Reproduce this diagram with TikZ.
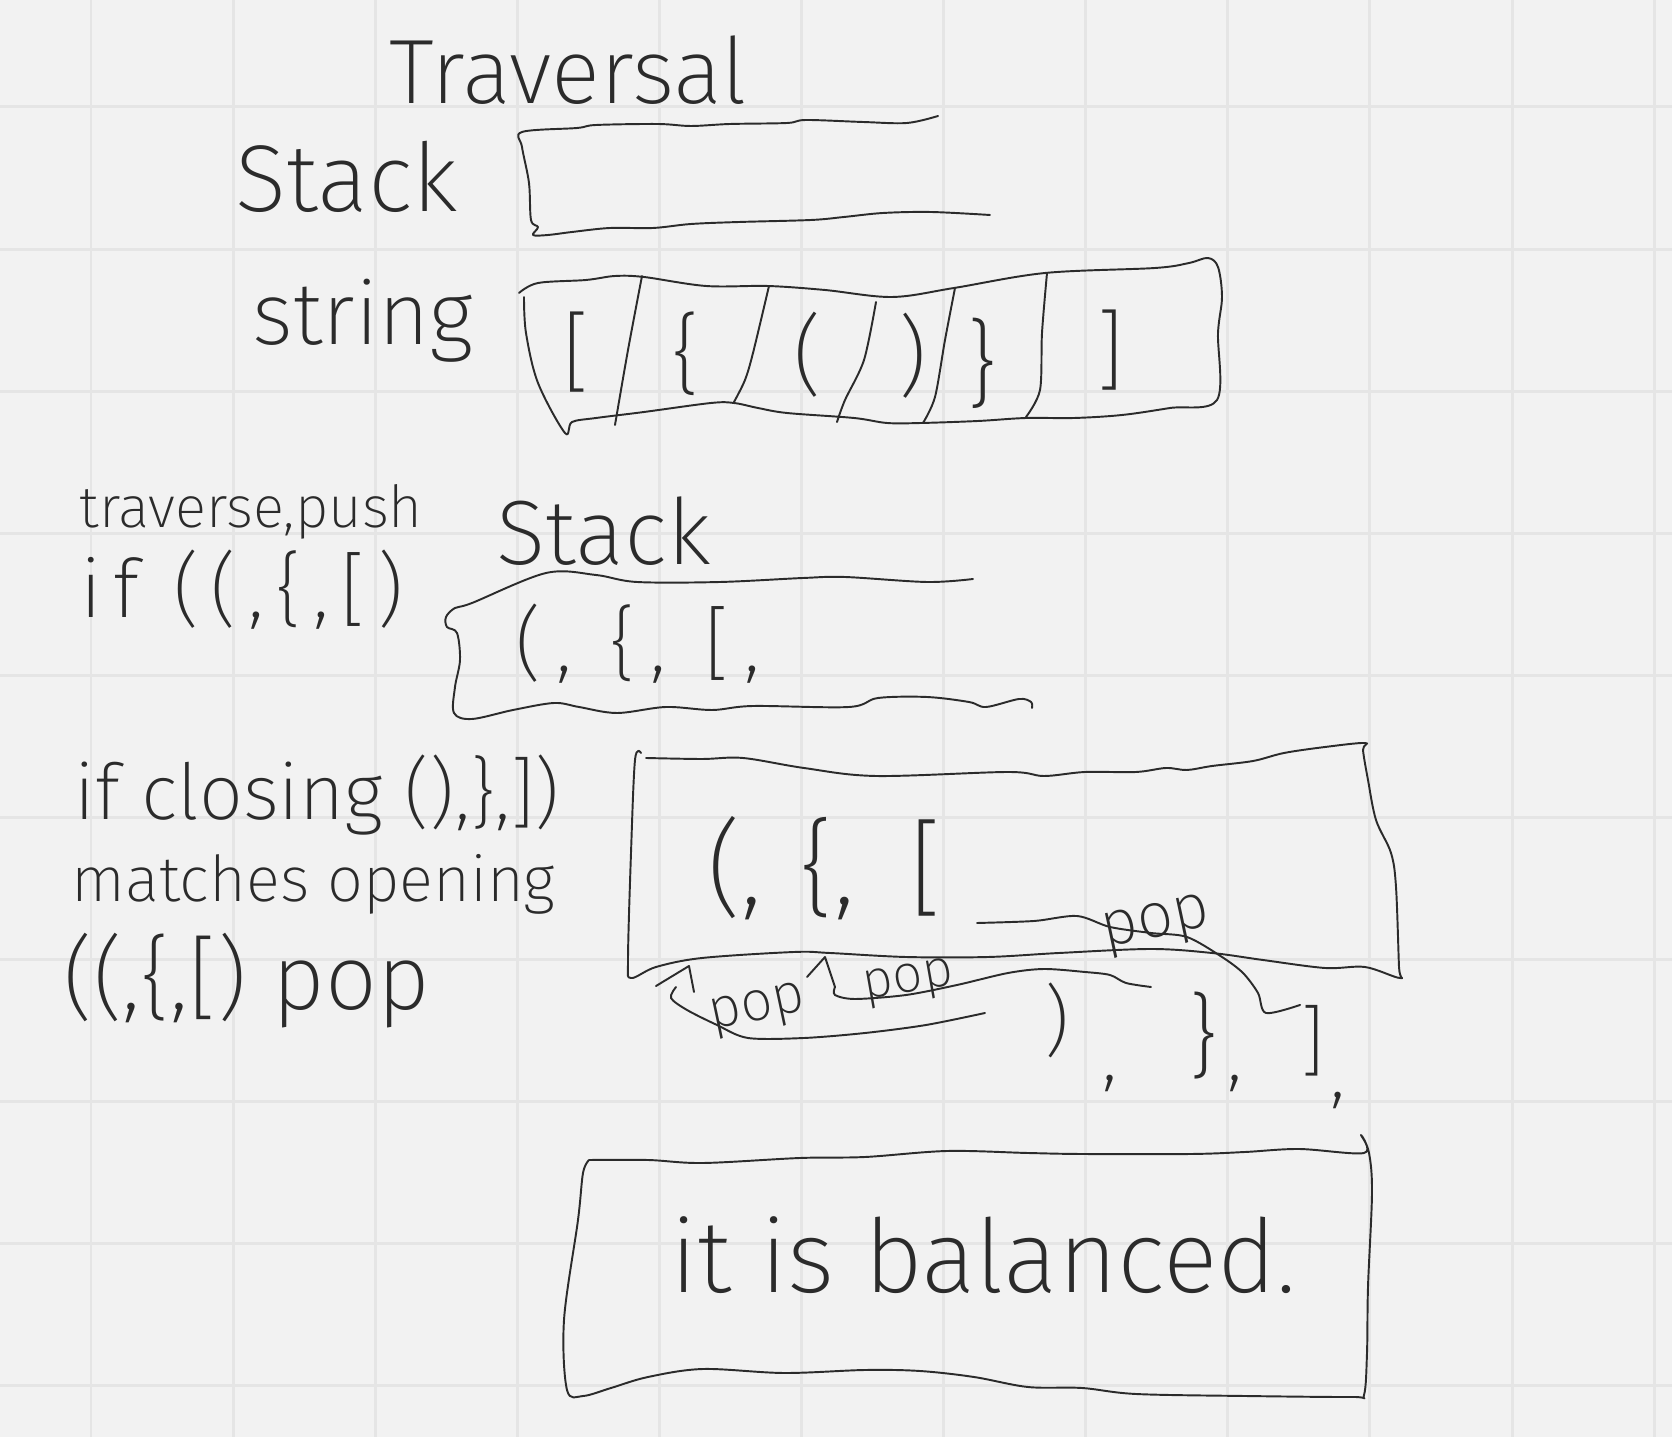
\documentclass[tikz,border=0pt]{standalone}
\usepackage{fontspec}
\newfontfamily\handfont{Fira Sans ExtraLight}

\definecolor{paper}{HTML}{F2F2F2}
\definecolor{gridc}{HTML}{E5E5E5}
\definecolor{ink}{HTML}{2B2B2B}

\newcommand\hs[1]{\fontsize{#1}{#1}\selectfont}
\newcommand\spread[1]{\addfontfeatures{LetterSpace=#1}}

\tikzset{
  pen/.style={ink, line width=0.55pt, line cap=round, line join=round},
  hw/.style={font=\handfont\hs{#1}, text=ink, inner sep=0pt, anchor=base west},
  glyph/.style={font=\handfont\hs{#1}, text=ink, inner sep=0pt},
}

\begin{document}
\begin{tikzpicture}[x=0.01cm, y=-0.01cm]
  \useasboundingbox (0,0) rectangle (1672,1437);
  % squared paper
  \fill[paper] (0,0) rectangle (1672,1437);
  \foreach \gx in {0,...,11}
    \draw[gridc, line width=0.85pt] ({91+142.1*\gx},0) -- ++(0,1437);
  \foreach \gy in {0,...,9}
    \draw[gridc, line width=0.85pt] (0,{107+142.1*\gy}) -- ++(1672,0);

  % headings
  \node[hw=26] (title) at (389,104) {Traversal};
  \node[hw=27] (stacklbl) at (235,212) {Stack};
  \node[hw=25] (strlbl) at (252,345) {string};

  % empty stack
  \draw[pen] plot[smooth, tension=0.55] coordinates {(938,116) (907,123) (863,122) (806,120) (787,123) (730,124) (691,126) (658,124) (596,125) (577,128) (522,132) (522,147) (529,183) (531,220) (538,227) (533,235) (548,235) (572,232) (610,228) (653,228) (691,224) (739,222) (811,220) (844,217) (883,213) (931,212) (990,215)};

  % the string
  \draw[pen] plot[smooth, tension=0.55] coordinates {(519,293) (538,283) (586,280) (615,276) (644,277) (706,286) (768,286) (825,290) (892,297) (954,288) (1045,273) (1155,268) (1189,263) (1208,258) (1218,267) (1222,297) (1218,333) (1217,400) (1170,408) (1122,415) (1074,418) (1026,418) (978,421) (921,423) (887,423) (854,418) (787,413) (758,408) (734,403) (711,403) (644,412) (596,418) (572,422) (565,433) (538,383) (526,333) (524,297)};
  \draw[pen] plot[smooth] coordinates {(642,276) (628,350) (615,425)};
  \draw[pen] plot[smooth] coordinates {(769,286) (753,353) (745,380) (734,402)};
  \draw[pen] plot[smooth] coordinates {(876,302) (864,360) (845,400) (837,422)};
  \draw[pen] plot[smooth] coordinates {(955,288) (945,340) (935,397) (923,423)};
  \draw[pen] plot[smooth] coordinates {(1047,273) (1042,333) (1040,390) (1026,417)};
  \node[glyph=25] (s1) at (576,352) {[};
  \node[glyph=25] (s2) at (686,354) {\{};
  \node[glyph=25] (s3) at (808,355) {(};
  \node[glyph=25] (s4) at (913,356) {)};
  \node[glyph=27] (s5) at (982,363) {\}};
  \node[glyph=25] (s6) at (1110,350) {]};

  % pushing
  \node[hw=16.5] (trav) at (79,528) {traverse,push};
  \node[hw=23] (ifopen) at (80,618) {\spread{14}if ((,\{,[)};
  \node[hw=26] (stackB) at (496,565) {Stack};
  \draw[pen] plot[smooth, tension=0.55] coordinates {(973,579) (927,582) (845,577) (803,578) (720,582) (637,582) (596,575) (546,573) (472,603) (455,608) (446,617) (447,627) (457,633) (460,660) (455,687) (454,713) (472,719) (513,710) (554,703) (579,707) (617,713) (666,707) (712,710) (753,706) (849,707) (878,698) (927,697) (969,702) (986,707) (1019,699) (1031,702) (1032,708)};
  \node[hw=23] (pushed) at (515,672) {\spread{18}(, \{, [,};

  % popping
  \node[hw=22] (ifclose) at (74,820) {if closing (),\},])};
  \node[hw=18] (matches) at (71,902) {matches opening};
  \node[hw=26] (popline) at (63,1010) {((,\{,[) pop};
  \draw[pen] plot[smooth, tension=0.55] coordinates {(641,753) (635,760) (631,853) (628,960) (631,978) (656,967) (702,958) (794,952) (830,953) (906,957) (988,957) (1059,953) (1151,949) (1212,953) (1263,960) (1325,968) (1365,967) (1400,978) (1399,967) (1396,887) (1391,853) (1376,820) (1368,780) (1363,750) (1365,743) (1325,747) (1284,753) (1253,761) (1212,766) (1187,770) (1166,768) (1136,772) (1085,772) (1044,776) (1008,772) (876,776) (804,768) (743,758) (702,759) (646,758)};
  \node[hw=30] (o1) at (707,905) {(,};
  \node[hw=30] (o2) at (799,905) {\{,};
  \node[hw=30] (o3) at (909,905) {[};

  \node[glyph=22] (c1) at (1057,1020) {)};
  \node[glyph=22] (k1) at (1110,1083) {,};
  \node[glyph=26] (c2) at (1203,1036) {\}};
  \node[glyph=22] (k2) at (1235,1083) {,};
  \node[glyph=22] (c3) at (1313,1041) {]};
  \node[glyph=22] (k3) at (1338,1100) {,};

  \node[hw=18, rotate=12] (popR) at (1105,948) {pop};
  \node[hw=15, rotate=10] (popM) at (865,1000) {pop};
  \node[hw=16, rotate=12] (popL) at (712,1030) {pop};

  \coordinate (caretL) at (689,966);
  \coordinate (caretM) at (825,957);
  \coordinate (lineR) at (977,923);
  \coordinate (swL) at (985,1013);
  \coordinate (swM) at (1151,987);
  \draw[pen] (656,986) -- (caretL) -- (694,992);
  \draw[pen] (807,977) -- (caretM) -- (835,987);
  \draw[pen] plot[smooth] coordinates {(676,987) (671,998) (687,1010) (717,1025) (748,1038) (804,1038) (865,1033) (926,1025) (swL)};
  \draw[pen] plot[smooth] coordinates {(835,987) (835,995) (855,999) (906,995) (957,985) (1008,973) (1044,969) (1085,972) (1110,975) (1126,983) (swM)};
  \draw[pen] plot[smooth] coordinates {(lineR) (1034,921) (1077,916) (1110,927) (1151,933) (1187,937) (1222,957) (1243,973) (1258,993) (1266,1013) (c3.north west)};

  % result
  \draw[pen] plot[smooth, tension=0.55] coordinates {(589,1160) (648,1160) (703,1163) (800,1158) (865,1157) (947,1151) (1028,1153) (1082,1154) (1191,1154) (1245,1152) (1299,1149) (1364,1153) (1361,1135) (1369,1153) (1372,1193) (1368,1287) (1367,1353) (1364,1395) (1353,1397) (1245,1396) (1136,1394) (1082,1388) (1028,1387) (974,1377) (920,1371) (865,1370) (784,1373) (703,1369) (648,1377) (611,1388) (583,1396) (567,1390) (564,1320) (578,1220) (583,1173) (589,1160)};
  \node[hw=29] (result) at (670,1292) {it is balanced.};
\end{tikzpicture}
\end{document}
